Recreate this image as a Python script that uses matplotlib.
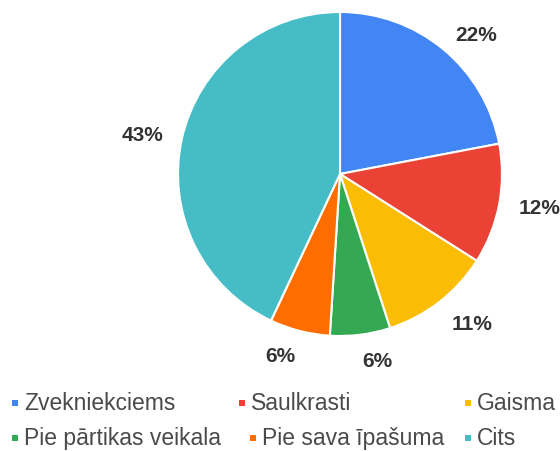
import matplotlib
matplotlib.use("Agg")
import matplotlib.pyplot as plt

# data
labels = ["Zvekniekciems", "Saulkrasti", "Gaisma",
          "Pie pārtikas veikala", "Pie sava īpašuma", "Cits"]
shares = [22, 12, 11, 6, 6, 43]
colors = ["#4285F4", "#EA4335", "#FBBC04", "#34A853", "#FF6D01", "#46BDC6"]
pct_text = ["%d%%" % v for v in shares]

plt.rcParams['font.family'] = ['Liberation Sans', 'DejaVu Sans']

fig = plt.figure(figsize=(5.6, 4.52), dpi=100)
ax = fig.add_axes([0, 0, 1, 1])

cx, cy = 340, 277
# percent labels sit outside the pie, left/right aligned like google charts
wedges, texts = ax.pie(shares, labels=pct_text, colors=colors, startangle=90,
                       counterclock=False, center=(cx, cy), radius=162,
                       labeldistance=1.12,
                       wedgeprops=dict(edgecolor='white', linewidth=1.5),
                       textprops=dict(fontsize=15, fontweight='bold', color='#333333'),
                       frame=True)
# pie() picks alignment from the sign of x, but the centre is not at 0 here
for t in texts:
    t.set_ha('left' if t.get_position()[0] > cx else 'right')
# the labels under the pie sit a bit lower in the original
for t in texts[2:5]:
    px, py = t.get_position()
    t.set_position((px, py - 6))

# axes in pixel units, y measured from bottom
ax.set_xlim(0, 560)
ax.set_ylim(0, 452)
ax.set_aspect('equal')
ax.axis('off')

# legend laid out like the original: 3 columns, filled row by row
col_x = [[15, 242, 468], [15, 253, 468]]
row_y = [452 - 404, 452 - 439]
for i, (lab, c) in enumerate(zip(labels, colors)):
    r = i // 3
    x = col_x[r][i % 3]
    y = row_y[r]
    ax.scatter([x], [y], marker='s', s=22, color=c, linewidths=0)
    ax.text(x + 9, y, lab, fontsize=16.5, color='#4a4a4a', va='center', ha='left')

fig.savefig("out.png", dpi=100)
